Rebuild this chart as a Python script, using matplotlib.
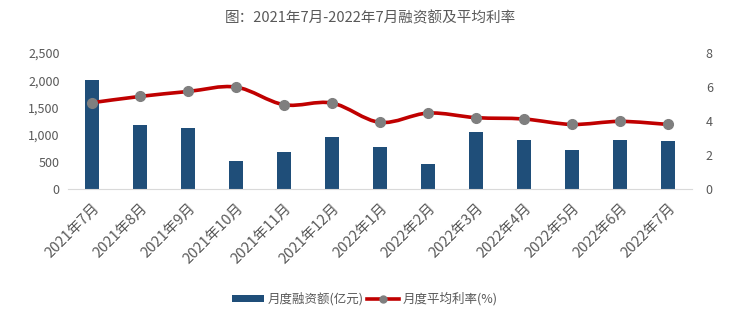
import matplotlib
matplotlib.use("Agg")
import matplotlib.pyplot as plt
from matplotlib.path import Path
from matplotlib.patches import PathPatch
from matplotlib.lines import Line2D
from matplotlib.patches import Patch
from matplotlib.ticker import FuncFormatter, MultipleLocator

plt.rcParams['font.family'] = ['Noto Sans CJK SC', 'DejaVu Sans']

months = ["2021年7月", "2021年8月", "2021年9月", "2021年10月", "2021年11月", "2021年12月",
          "2022年1月", "2022年2月", "2022年3月", "2022年4月", "2022年5月", "2022年6月", "2022年7月"]
financing = [2010, 1180, 1130, 520, 680, 950, 780, 450, 1040, 900, 710, 900, 880]
rate = [5.08, 5.45, 5.74, 6.0, 4.96, 5.06, 3.92, 4.47, 4.2, 4.12, 3.8, 3.98, 3.8]

title = "图：2021年7月-2022年7月融资额及平均利率"
bar_label = "月度融资额(亿元)"
line_label = "月度平均利率(%)"

bar_color = "#1F4E79"
line_color = "#C00000"
marker_color = "#7F7F7F"
text_color = "#595959"

fig = plt.figure(figsize=(7.4, 3.28), dpi=100)
ax = fig.add_axes([0.092, 0.424, 0.843, 0.414])
x = list(range(len(months)))
ax.bar(x, financing, width=0.3, color=bar_color, zorder=2)
ax.set_xlim(-0.5, len(months) - 0.5)
ax.set_ylim(0, 2500)
ax.yaxis.set_major_locator(MultipleLocator(500))
ax.yaxis.set_major_formatter(FuncFormatter(lambda v, p: f"{int(v):,}"))
for s in ["top", "right", "left"]:
    ax.spines[s].set_visible(False)
ax.spines["bottom"].set_color("#D9D9D9")
ax.tick_params(axis="y", length=0, colors=text_color, labelsize=9, pad=6)
ax.tick_params(axis="x", length=0, colors=text_color, pad=9)
ax.set_xticks(x)
ax.set_xticklabels(months, rotation=45, ha="right", rotation_mode="anchor", fontsize=10.5, color=text_color)

ax2 = ax.twinx()
ax2.set_ylim(0, 8)
ax2.yaxis.set_major_locator(MultipleLocator(2))
for s in ["top", "right", "left", "bottom"]:
    ax2.spines[s].set_visible(False)
ax2.tick_params(axis="y", length=0, colors=text_color, labelsize=9, pad=10)

# smooth (Catmull-Rom style) rendering of the line through data points
verts = [(x[0], rate[0])]
codes = [Path.MOVETO]
n = len(x)
for i in range(n - 1):
    p0 = (x[i - 1], rate[i - 1]) if i > 0 else (x[i], rate[i])
    p1 = (x[i], rate[i])
    p2 = (x[i + 1], rate[i + 1])
    p3 = (x[i + 2], rate[i + 2]) if i + 2 < n else p2
    t = 1 / 6
    c1 = (p1[0] + (p2[0] - p0[0]) * t, p1[1] + (p2[1] - p0[1]) * t)
    c2 = (p2[0] - (p3[0] - p1[0]) * t, p2[1] - (p3[1] - p1[1]) * t)
    verts += [c1, c2, p2]
    codes += [Path.CURVE4] * 3
ax2.add_patch(PathPatch(Path(verts, codes), facecolor="none", edgecolor=line_color, lw=2.6, zorder=3))
ax2.plot(x, rate, linestyle="none", marker="o", markersize=7, color=marker_color, zorder=4)

fig.text(0.5, 0.945, title, ha="center", va="center", fontsize=10.5, color=text_color)

handles = [Patch(facecolor=bar_color, label=bar_label),
           Line2D([0], [0], color=line_color, lw=2.6, marker="o", markersize=5,
                  markerfacecolor=marker_color, markeredgecolor=marker_color, label=line_label)]
fig.legend(handles=handles, loc="center", bbox_to_anchor=(0.493, 0.088), ncol=2, frameon=False,
           fontsize=9, labelcolor=text_color, handlelength=2.6, handletextpad=0.3, columnspacing=0.2,
           handleheight=0.55)

fig.savefig("out.png", dpi=100)
